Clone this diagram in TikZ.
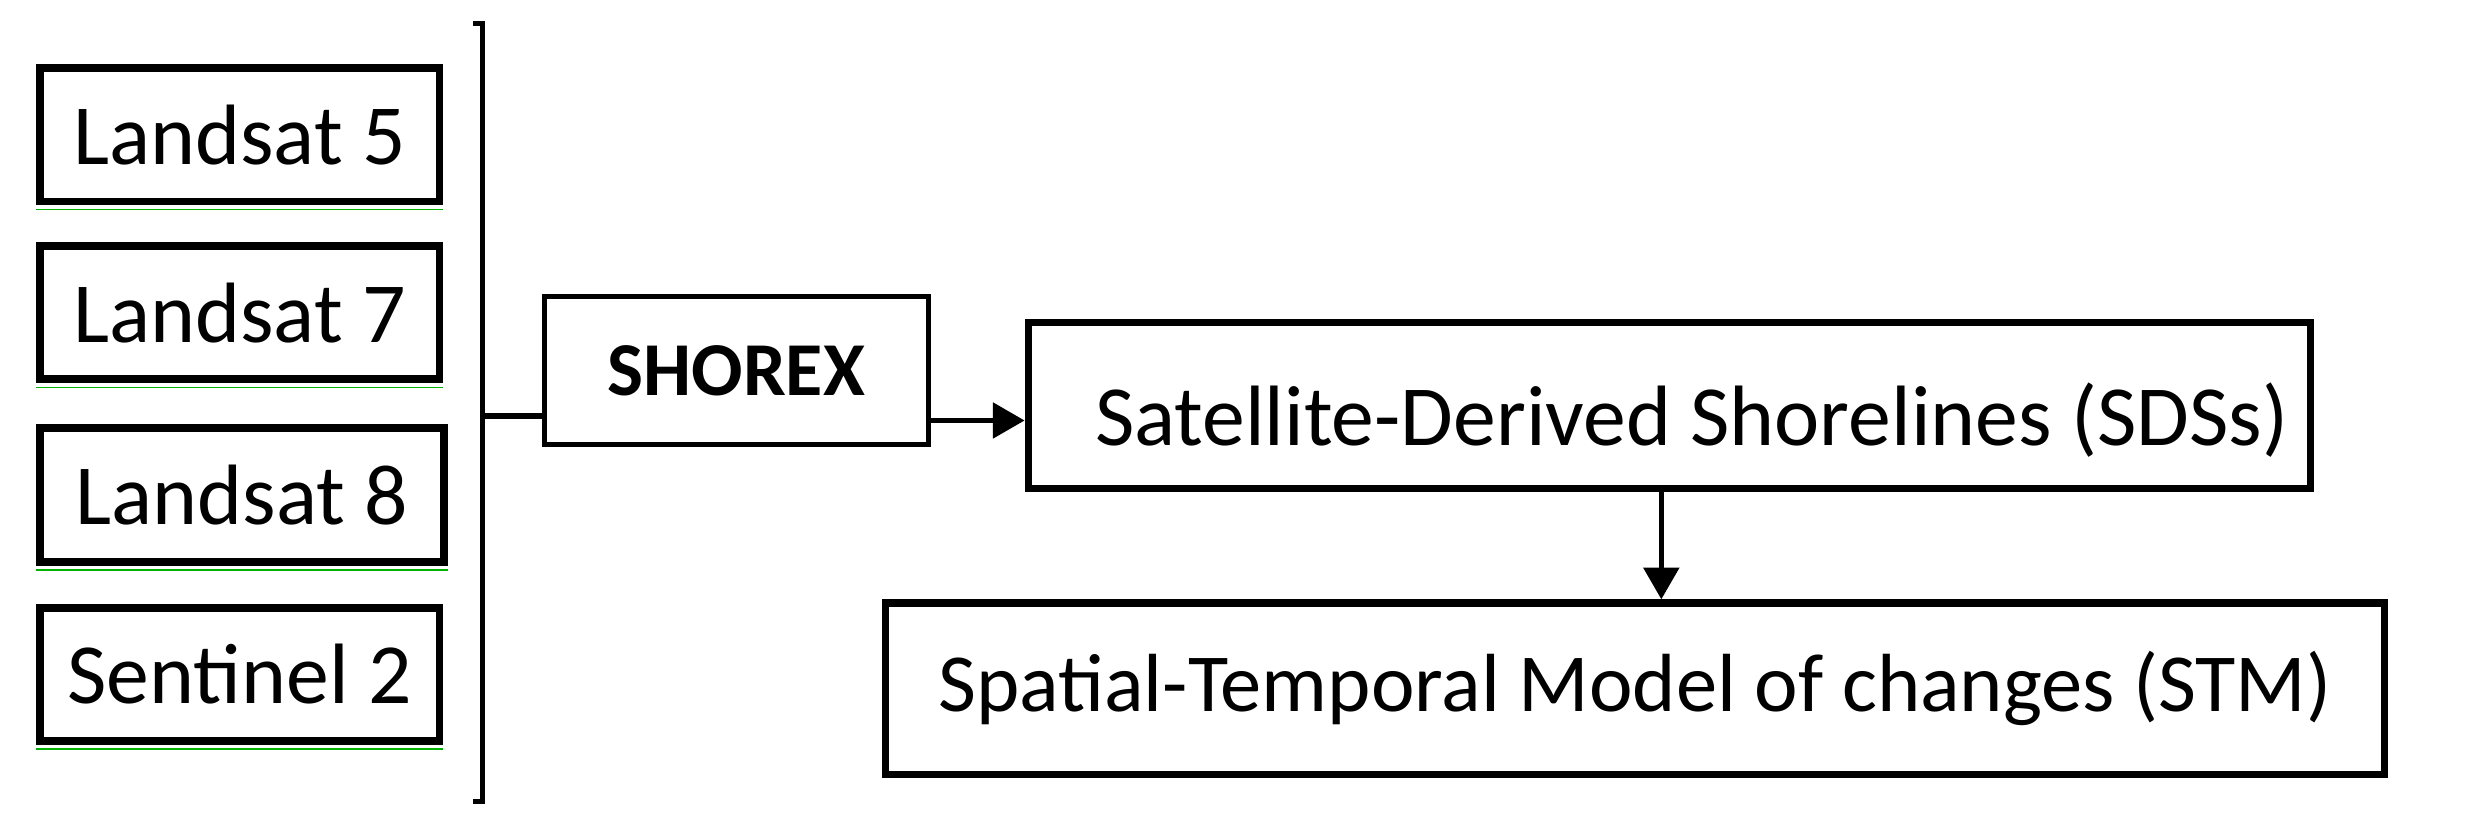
\documentclass[tikz,border=0pt]{standalone}
\usepackage{fontspec}
\setmainfont{Carlito}
\usetikzlibrary{arrows.meta}
\begin{document}
\begin{tikzpicture}[x=1pt,y=-1pt,
  sat/.style={draw,line width=5pt,minimum width=252pt,minimum height=84pt,font=\fontsize{54}{62}\selectfont,inner sep=0pt},
  big/.style={draw,line width=4.5pt,inner sep=0pt,font=\fontsize{52}{60}\selectfont},
  arr/.style={line width=3.5pt,-{Triangle[length=20pt,width=22pt]}}]
\useasboundingbox (0,0) rectangle (1568,527);
\node[sat] (l5) at (151,85) {Landsat 5};
\node[sat] (l7) at (151,197) {Landsat 7};
\node[sat,minimum width=255pt] (l8) at (152.5,312) {Landsat 8};
\node[sat] (s2) at (151,425) {Sentinel 2};
\foreach \n in {l5,l7,l8,s2}
  \draw[green!70!black,line width=1pt] ([yshift=-2.6pt]\n.south west) -- ([yshift=-2.6pt]\n.south east);
\coordinate (bt) at (304,15);
\coordinate (bb) at (304,505);
\coordinate (bm) at (304,262);
\draw[line width=3pt] (298,15) -- (bt) -- (bb) -- (298,505);
\node[draw,line width=3pt,minimum width=242pt,minimum height=93pt,inner sep=0pt,font=\fontsize{48}{56}\selectfont\bfseries] (sh) at (464,233.5) {SHOREX};
\draw[line width=3.5pt] (bm) -- (sh.west |- bm);
\node[big,minimum width=808pt,minimum height=105pt] (sds) at (1052,255.5) {};
\node[font=\fontsize{54}{62}\selectfont,anchor=west,inner sep=0pt] (sdst) at (690,265) {Satellite-Derived Shorelines (SDSs)};
\node[big,minimum width=945pt,minimum height=108pt] (stm) at (1030.5,434) {Spatial-Temporal Model of changes (STM)};
\draw[arr] (sh.east |- 0,265) -- (sds.west |- 0,265);
\draw[arr] (sds.south -| 1047,0) -- (stm.north -| 1047,0);
\end{tikzpicture}
\end{document}
